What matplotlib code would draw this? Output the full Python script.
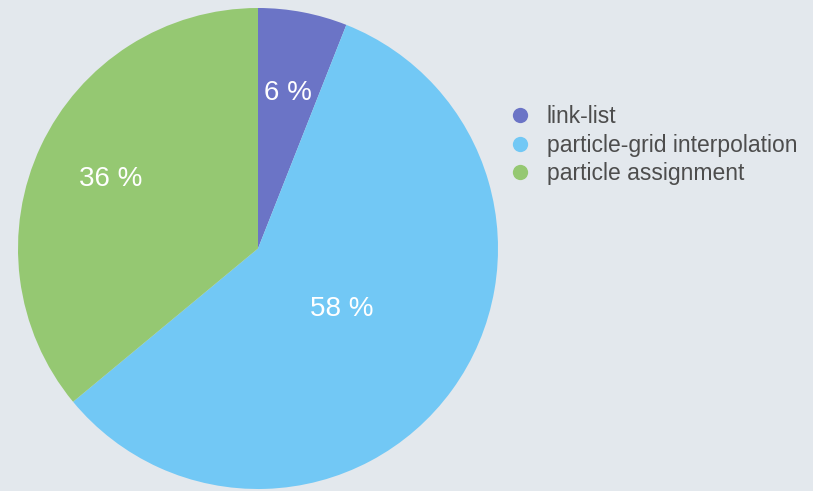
import numpy as np
import matplotlib.pyplot as plt
from matplotlib.lines import Line2D

plt.rcParams['font.family'] = ['Liberation Sans', 'DejaVu Sans']

# share of run time per stage
labels = ['link-list', 'particle-grid interpolation', 'particle assignment']
shares = [6, 58, 36]
colors = ['#6b74c6', '#72c8f5', '#95c872']
label_radius = [0.66, 0.43, 0.68]

bg = '#e3e8ed'
fig = plt.figure(figsize=(8.13, 4.91), dpi=100, facecolor=bg)
ax = fig.add_axes([18 / 813, 2 / 491, 480 / 813, 481 / 491])
ax.set_facecolor(bg)

wedges, _ = ax.pie(shares, colors=colors, startangle=90, counterclock=False,
                   wedgeprops=dict(linewidth=0))
ax.set_xlim(-1, 1)
ax.set_ylim(-1, 1)
ax.set_aspect('auto')

# percentage labels, placed along each wedge's middle angle
for w, s, r in zip(wedges, shares, label_radius):
    mid = np.deg2rad((w.theta1 + w.theta2) / 2)
    ax.text(r * np.cos(mid), r * np.sin(mid), f'{s} %', color='white',
            fontsize=20, ha='center', va='center')

handles = [Line2D([], [], marker='o', linestyle='none', markersize=11,
                  markerfacecolor=c, markeredgecolor='none') for c in colors]
fig.legend(handles, labels, loc='upper left', bbox_to_anchor=(509 / 813, 1 - 105 / 491),
           frameon=False, fontsize=16.5, labelcolor='#4d4d4d', handletextpad=0.65,
           labelspacing=0.25, handlelength=1.0, borderpad=0, borderaxespad=0)

fig.savefig('out.png', dpi=100, facecolor=bg)
